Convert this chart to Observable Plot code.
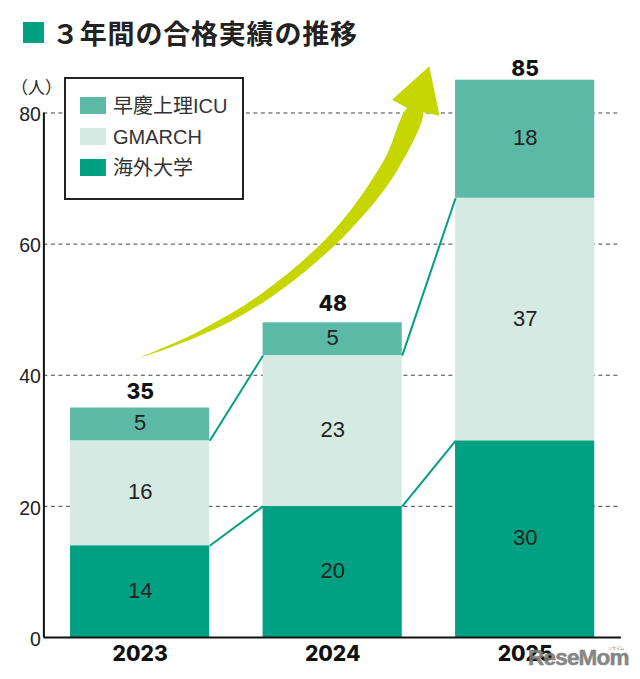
<!DOCTYPE html>
<html lang="ja">
<head>
<meta charset="utf-8">
<script src="https://cdn.jsdelivr.net/npm/d3@7"></script>
<script src="https://cdn.jsdelivr.net/npm/@observablehq/plot@0.6"></script>
<style>
html,body{margin:0;padding:0;background:#fff}
#wrap{position:relative;width:640px;height:679px;overflow:hidden;font-family:"Liberation Sans","Noto Sans CJK JP",sans-serif}
#title{height:56px;position:relative}
#title .sq{position:absolute;left:23px;top:22px;width:21px;height:21px;background:#00a082}
#title .tx{position:absolute;left:52px;top:13px;font-family:"Noto Sans CJK JP",sans-serif;font-size:27px;line-height:40px;font-weight:700;color:#222;letter-spacing:.8px;white-space:nowrap}
#unit{position:absolute;left:11px;top:76px;font-family:"Noto Sans CJK JP",sans-serif;font-size:17px;line-height:22px;color:#222}
#legend{position:absolute;left:64px;top:77px;width:176px;height:119px;border:2px solid #222;background:#fff}
#legend .row{position:absolute;left:14px;height:18px;white-space:nowrap;font-size:20px;color:#333}
#legend .sw{position:absolute;left:0;top:0;width:26px;height:17px}
#legend .lb{position:absolute;left:33px;top:-3px;height:24px;line-height:24px}
#mark{position:absolute;left:528px;top:643px;font-weight:700;font-size:22.5px;line-height:30px;letter-spacing:-.8px;color:#7a7a7a;-webkit-text-stroke:.5px #7a7a7a;opacity:.9;white-space:nowrap}
#mark2{position:absolute;left:608px;top:645px;font-family:"Noto Sans CJK JP",sans-serif;font-size:4px;line-height:6px;color:#777;white-space:nowrap}
svg{display:block}
</style>
</head>
<body>
<div id="wrap">
  <div id="title"><div class="sq"></div><div class="tx">３年間の合格実績の推移</div></div>
  <div id="chart"></div>
  <div id="unit">（人）</div>
  <div id="legend"></div>
  <div id="mark">ReseMom</div>
  <div id="mark2">リセマム</div>
</div>
<script>
const years = [2023, 2024, 2025];
const overseas = [14, 20, 30];
const gmarch = [16, 23, 37];
const soukei = [5, 5, 18];
const totals = [35, 48, 85];
const totalOffsets = [-16, -19, -11];
const yTicks = [0, 20, 40, 60, 80];
const seriesNames = ["海外大学", "GMARCH", "早慶上理ICU"];
const seriesColors = ["#00a082", "#d6eae4", "#5cb9a5"];
const shaftYears = [2022.993,2023.296,2023.642,2024.006,2024.266,2024.396,2024.468,2024.335,2024.088,2023.764,2023.469,2023.123,2022.993];
const shaftValues = [42.67,46.57,52.68,62.09,72.77,80.90,80.40,71.24,62.09,53.70,48.21,43.89,42.67];
const headYears = [2024.309,2024.502,2024.555,2024.396];
const headValues = [82.03,87.11,79.59,80.60];

const half = 0.3615;
const font = "'Liberation Sans', sans-serif";
const heavy = "Inter, sans-serif";
const segments = [];
years.forEach((year, i) => {
  let base = 0;
  [overseas, gmarch, soukei].forEach((s, k) => {
    segments.push({year, k, y1: base, y2: base + s[i], value: s[i]});
    base += s[i];
  });
});
const links = [];
for (let i = 0; i < years.length - 1; i++) {
  links.push({a: years[i] + half, b: years[i + 1] - half, y1: overseas[i], y2: overseas[i + 1]});
  links.push({a: years[i] + half, b: years[i + 1] - half, y1: overseas[i] + gmarch[i], y2: overseas[i + 1] + gmarch[i + 1]});
}
const shaft = shaftYears.map((x, i) => ({x, y: shaftValues[i]}));
const head = headYears.map((x, i) => ({x, y: headValues[i]}));

const chart = Plot.plot({
  width: 640,
  height: 623,
  style: {background: "#fff", overflow: "visible"},
  x: {domain: [2022.5, 2025.5], range: [43.4, 620.9], axis: null},
  y: {domain: [0, 85], range: [581, 23.7], axis: null},
  marks: [
    Plot.ruleY(yTicks.filter(d => d > 0), {x1: 2022.5, x2: 2025.5, stroke: "#444", strokeWidth: 1, strokeDasharray: "4 3.5"}),
    Plot.rect(segments, {x1: d => d.year - half, x2: d => d.year + half, y1: "y1", y2: "y2", fill: d => seriesColors[d.k]}),
    Plot.link(links, {x1: "a", x2: "b", y1: "y1", y2: "y2", stroke: "#00a082", strokeWidth: 2}),
    Plot.line(shaft, {x: "x", y: "y", fill: "#c5d600", stroke: "none", curve: "catmull-rom"}),
    Plot.line(head, {x: "x", y: "y", fill: "#c5d600", stroke: "none"}),
    Plot.text(segments, {x: "year", y: d => (d.y1 + d.y2) / 2, text: d => String(d.value), dy: -1, fontFamily: font, fontSize: 22, fill: "#222"}),
    ...years.map((year, i) => Plot.text([totals[i]], {x: () => year, y: d => d, text: d => String(d), dy: totalOffsets[i], fontFamily: heavy, fontSize: 21, fontWeight: 800, fill: "#111"})),
    Plot.ruleX([2022.5], {y1: 0, y2: 80, stroke: "#111", strokeWidth: 2}),
    Plot.ruleY([0], {x1: 2022.5, x2: 2025.5, stroke: "#111", strokeWidth: 2}),
    Plot.text(yTicks, {x: 2022.5, y: d => d, text: d => String(d), textAnchor: "end", dx: -3, dy: 2, fontFamily: font, fontSize: 19.5, fill: "#222"}),
    Plot.text(years, {x: d => d, y: 0, text: d => String(d), dy: 17, fontFamily: heavy, fontSize: 21, fontWeight: 800, fill: "#111"})
  ]
});
document.getElementById("chart").appendChild(chart);

const legend = document.getElementById("legend");
[2, 1, 0].forEach((k, row) => {
  const el = document.createElement("div");
  el.className = "row";
  el.style.top = (18 + row * 31) + "px";
  const sw = document.createElement("div");
  sw.className = "sw";
  sw.style.background = seriesColors[k];
  el.appendChild(sw);
  const lb = document.createElement("div");
  lb.className = "lb";
  lb.textContent = seriesNames[k];
  el.appendChild(lb);
  legend.appendChild(el);
});
</script>
</body>
</html>
